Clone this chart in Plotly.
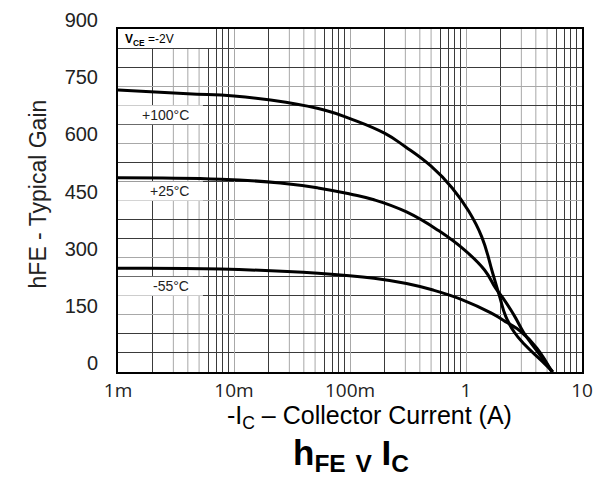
import plotly.graph_objects as go
import numpy as np

# ---- data ----
x_100 = [0.001, 0.004, 0.01, 0.028, 0.061, 0.10, 0.20, 0.30, 0.50, 0.76, 1.05, 1.37, 1.70, 1.95, 2.2, 2.6, 3.2, 4.5, 5.6]
y_100 = [740, 730, 724, 708, 687, 665, 626, 591, 540, 483, 423, 354, 259, 198, 146, 105, 72, 29, 0]

x_25 = [0.001, 0.0077, 0.025, 0.053, 0.10, 0.161, 0.307, 0.58, 0.98, 1.45, 1.80, 2.15, 2.63, 3.15, 4.1, 5.6]
y_25 = [510, 506, 496, 483, 467, 452, 420, 371, 319, 267, 220, 188, 146, 103, 55, 0]

x_55 = [0.001, 0.0077, 0.053, 0.161, 0.307, 0.52, 0.92, 1.64, 2.28, 2.95, 4.1, 5.5]
y_55 = [272, 270, 259, 246, 232, 215, 190, 155, 129, 107, 62, 0]

series_names = ["+100°C", "+25°C", "-55°C"]
label_y = [675, 475, 225]

decades = [0.001, 0.01, 0.1, 1, 10]
decade_labels = ["1m", "10m", "100m", "1", "10"]
y_ticks = [0, 150, 300, 450, 600, 750, 900]
dark_mult = [2, 6, 7, 8, 9]
gray_mult = [3, 4, 5]

GRID_DARK = "#3a3a3a"
GRID_GRAY = "#a8a8a8"

fig = go.Figure()
for xs, ys, nm in zip([x_100, x_25, x_55], [y_100, y_25, y_55], series_names):
    fig.add_trace(go.Scatter(x=xs, y=ys, mode="lines", name=nm,
                             line=dict(color="black", width=3, shape="spline", smoothing=1.3),
                             showlegend=False, hoverinfo="skip"))

dark_vals = [d * m for d in decades[:-1] for m in dark_mult]
gray_vals = [d * m for d in decades[:-1] for m in gray_mult]

shapes = []
for v in gray_vals:
    shapes.append(dict(type="line", xref="x", yref="paper", x0=v, x1=v, y0=0, y1=1,
                       line=dict(color=GRID_GRAY, width=1), layer="between"))

# white label boxes
box_right = 0.0054
for ly in label_y:
    shapes.append(dict(type="rect", xref="x", yref="y", x0=0.001, x1=box_right,
                       y0=ly - 25, y1=ly + 25, fillcolor="white", line=dict(width=0),
                       layer="between"))
shapes.append(dict(type="rect", xref="x", yref="y", x0=0.001, x1=0.0064,
                   y0=850, y1=900, fillcolor="white", line=dict(width=0), layer="between"))

annotations = []
for nm, ly in zip(series_names, label_y):
    annotations.append(dict(x=np.log10(0.0043), y=ly, xref="x", yref="y", text=nm,
                            showarrow=False, xanchor="right", yanchor="middle",
                            font=dict(family="Liberation Sans, Arial", size=14, color="#222")))
annotations.append(dict(x=0, y=1, xref="paper", yref="paper",
                        text="<b>V<sub>CE</sub></b> =-2V", showarrow=False,
                        xanchor="left", yanchor="top", xshift=5, yshift=-1,
                        font=dict(family="Liberation Sans, Arial", size=12, color="black")))
annotations.append(dict(x=(36 - 118) / 475, y=(372 - 192) / 346, xref="paper", yref="paper",
                        text="hFE - Typical Gain", textangle=-90, showarrow=False,
                        xanchor="center", yanchor="middle",
                        font=dict(family="Liberation Sans, Arial", size=23, color="#222")))
annotations.append(dict(x=(375 - 118) / 475, y=(372 - 417) / 346, xref="paper", yref="paper",
                        text="-I<sub>C</sub> – Collector Current (A)", showarrow=False,
                        xanchor="center", yanchor="middle",
                        font=dict(family="Liberation Sans, Arial", size=25, color="black")))
annotations.append(dict(x=(357 - 118) / 475, y=(372 - 456) / 346, xref="paper", yref="paper",
                        text="<b>h<sub>FE</sub> <sub>V</sub> I<sub>C</sub></b>", showarrow=False,
                        xanchor="center", yanchor="middle",
                        font=dict(family="Liberation Sans, Arial", size=35, color="black")))

fig.update_layout(
    width=602, height=479,
    margin=dict(l=118, r=9, t=26, b=107),
    paper_bgcolor="white", plot_bgcolor="white",
    shapes=shapes, annotations=annotations,
    xaxis=dict(type="log", range=[-3, 1], tickmode="array", tickvals=decades,
               ticktext=decade_labels, ticks="", showgrid=True, gridcolor=GRID_GRAY,
               gridwidth=1, showline=True, linecolor="black", linewidth=2, mirror=True,
               tickfont=dict(family="Open Sans, Liberation Sans", size=19, color="#222"),
               minor=dict(tickmode="array", tickvals=dark_vals, showgrid=True,
                          gridcolor=GRID_DARK, gridwidth=1, ticks=""),
               zeroline=False),
    yaxis=dict(range=[0, 900], tickmode="array", tickvals=y_ticks, ticks="",
               showgrid=True, gridcolor=GRID_GRAY, gridwidth=1,
               showline=True, linecolor="black", linewidth=2, mirror=True,
               tickfont=dict(family="Liberation Sans, Arial", size=20, color="#222"),
               ticklabelstandoff=14, ticklabelshift=-9,
               minor=dict(dtick=50, showgrid=True, gridcolor=GRID_DARK, gridwidth=1, ticks=""),
               zeroline=False),
)

fig.write_html("out.html")
